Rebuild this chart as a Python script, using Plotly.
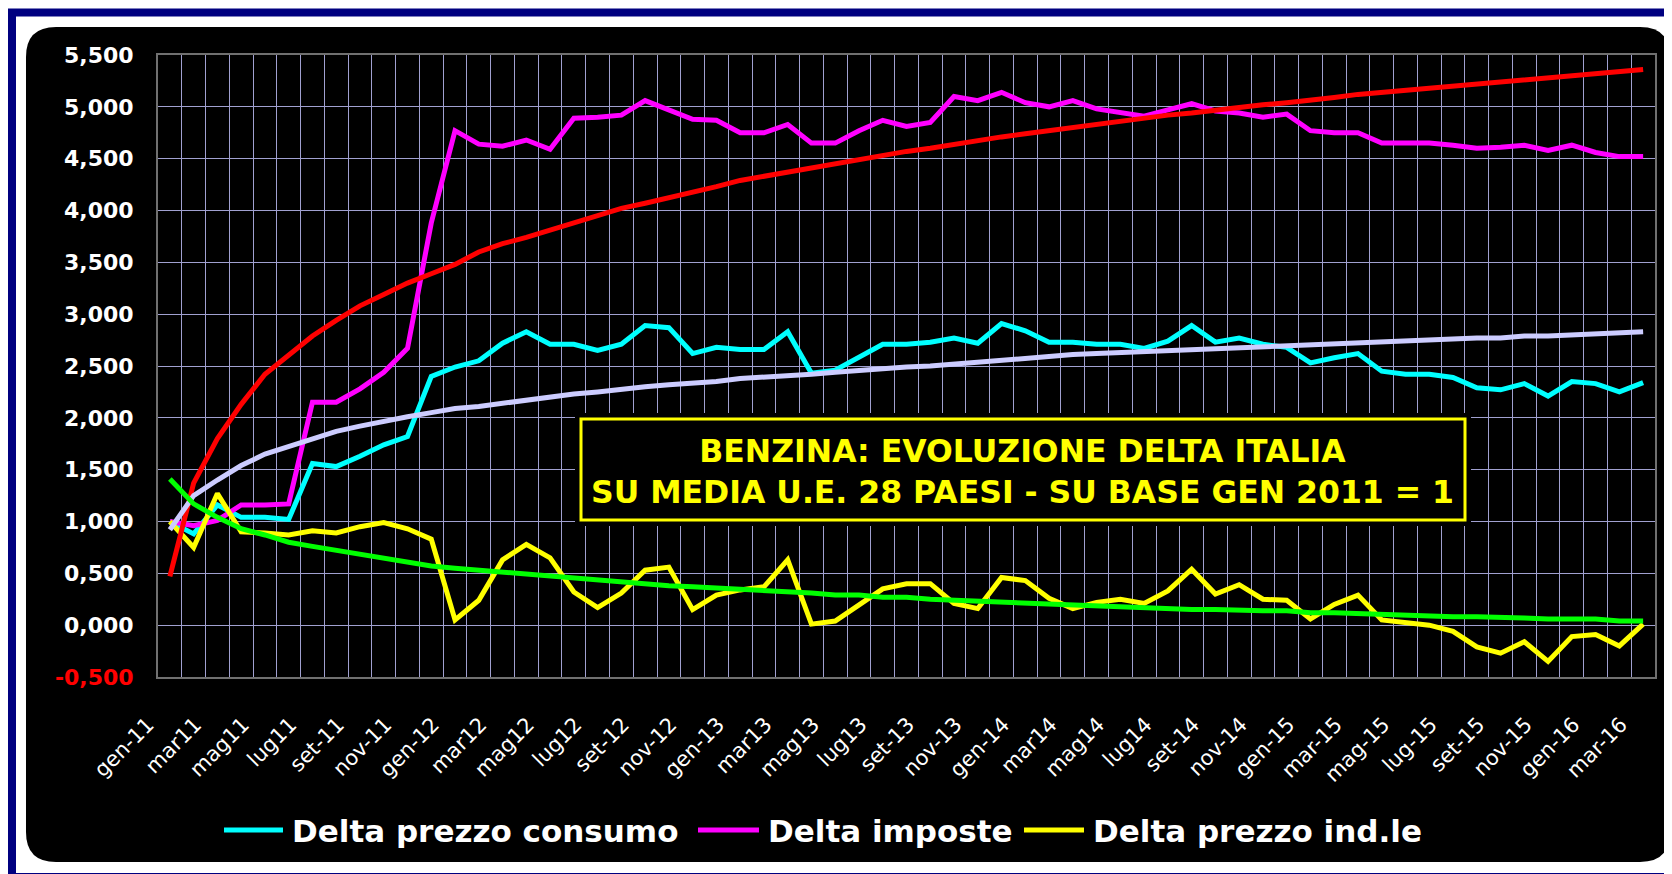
import plotly.graph_objects as go

# ---------------- data ----------------
months = [
    "gen-11", "feb-11", "mar-11", "apr-11", "mag-11", "giu-11", "lug-11", "ago-11", "set-11", "ott-11", "nov-11", "dic-11",
    "gen-12", "feb-12", "mar-12", "apr-12", "mag-12", "giu-12", "lug-12", "ago-12", "set-12", "ott-12", "nov-12", "dic-12",
    "gen-13", "feb-13", "mar-13", "apr-13", "mag-13", "giu-13", "lug-13", "ago-13", "set-13", "ott-13", "nov-13", "dic-13",
    "gen-14", "feb-14", "mar-14", "apr-14", "mag-14", "giu-14", "lug-14", "ago-14", "set-14", "ott-14", "nov-14", "dic-14",
    "gen-15", "feb-15", "mar-15", "apr-15", "mag-15", "giu-15", "lug-15", "ago-15", "set-15", "ott-15", "nov-15", "dic-15",
    "gen-16", "feb-16", "mar-16",
]

# labels shown on the axis (every second month, as written in the original)
tick_labels = [
    "gen-11", "mar11", "mag11", "lug11", "set-11", "nov-11",
    "gen-12", "mar12", "mag12", "lug12", "set-12", "nov-12",
    "gen-13", "mar13", "mag13", "lug13", "set-13", "nov-13",
    "gen-14", "mar14", "mag14", "lug14", "set-14", "nov-14",
    "gen-15", "mar-15", "mag-15", "lug-15", "set-15", "nov-15",
    "gen-16", "mar-16",
]

delta_prezzo_consumo = [
    1.00, 0.88, 1.16, 1.04, 1.04, 1.02, 1.56, 1.53, 1.63, 1.74,
    1.82, 2.40, 2.49, 2.55, 2.72, 2.83, 2.71, 2.71, 2.65, 2.71,
    2.89, 2.87, 2.62, 2.68, 2.66, 2.66, 2.83, 2.43, 2.46, 2.59,
    2.71, 2.71, 2.73, 2.77, 2.72, 2.91, 2.84, 2.73, 2.73, 2.71,
    2.71, 2.67, 2.74, 2.89, 2.73, 2.77, 2.71, 2.68, 2.53, 2.58,
    2.62, 2.45, 2.42, 2.42, 2.39, 2.29, 2.27, 2.33, 2.21, 2.35,
    2.33, 2.25, 2.34,
]

delta_imposte = [
    1.00, 0.96, 1.01, 1.16, 1.16, 1.17, 2.15, 2.15, 2.28, 2.44,
    2.67, 3.88, 4.77, 4.64, 4.62, 4.68, 4.59, 4.89, 4.90, 4.92,
    5.06, 4.97, 4.88, 4.87, 4.75, 4.75, 4.83, 4.65, 4.65, 4.77,
    4.87, 4.81, 4.85, 5.10, 5.06, 5.14, 5.04, 5.00, 5.06, 4.98,
    4.94, 4.91, 4.97, 5.03, 4.96, 4.94, 4.90, 4.93, 4.77, 4.75,
    4.75, 4.65, 4.65, 4.65, 4.63, 4.60, 4.61, 4.63, 4.58, 4.63,
    4.56, 4.52, 4.52,
]

delta_prezzo_industriale = [
    1.00, 0.75, 1.27, 0.90, 0.89, 0.87, 0.91, 0.89, 0.95, 0.99,
    0.93, 0.83, 0.05, 0.24, 0.63, 0.78, 0.65, 0.32, 0.17, 0.31,
    0.53, 0.56, 0.15, 0.29, 0.34, 0.37, 0.63, 0.01, 0.04, 0.20,
    0.35, 0.40, 0.40, 0.21, 0.16, 0.46, 0.43, 0.26, 0.16, 0.22,
    0.25, 0.21, 0.33, 0.54, 0.30, 0.39, 0.25, 0.24, 0.06, 0.20,
    0.29, 0.05, 0.02, 0.00, -0.06, -0.21, -0.27, -0.16, -0.35, -0.11,
    -0.09, -0.20, 0.01,
]

# trend lines (as drawn in the original)
trend_imposte = [
    0.47, 1.37, 1.80, 2.13, 2.42, 2.60, 2.79, 2.94, 3.08, 3.19,
    3.30, 3.39, 3.48, 3.60, 3.68, 3.74, 3.81, 3.89, 3.95, 4.02,
    4.07, 4.12, 4.18, 4.23, 4.29, 4.33, 4.37, 4.41, 4.46, 4.49,
    4.53, 4.57, 4.60, 4.64, 4.67, 4.71, 4.74, 4.77, 4.80, 4.83,
    4.87, 4.89, 4.92, 4.94, 4.97, 5.00, 5.02, 5.04, 5.06, 5.09,
    5.12, 5.14, 5.16, 5.18, 5.21, 5.22, 5.25, 5.26, 5.29, 5.30,
    5.33, 5.34, 5.36,
]

trend_consumo = [
    0.92, 1.25, 1.40, 1.54, 1.65, 1.72, 1.80, 1.87, 1.92, 1.97,
    2.01, 2.05, 2.09, 2.11, 2.14, 2.17, 2.21, 2.23, 2.25, 2.28,
    2.30, 2.32, 2.33, 2.35, 2.38, 2.39, 2.41, 2.42, 2.44, 2.46,
    2.47, 2.49, 2.50, 2.52, 2.53, 2.55, 2.57, 2.59, 2.61, 2.62,
    2.63, 2.64, 2.65, 2.66, 2.67, 2.67, 2.69, 2.70, 2.71, 2.71,
    2.73, 2.74, 2.75, 2.75, 2.76, 2.77, 2.77, 2.79, 2.79, 2.80,
    2.81, 2.81, 2.83,
]

trend_industriale = [
    1.41, 1.17, 1.04, 0.93, 0.87, 0.80, 0.76, 0.72, 0.68, 0.64,
    0.60, 0.57, 0.55, 0.53, 0.51, 0.49, 0.47, 0.45, 0.44, 0.42,
    0.40, 0.38, 0.37, 0.36, 0.34, 0.33, 0.32, 0.31, 0.29, 0.29,
    0.27, 0.27, 0.25, 0.24, 0.24, 0.22, 0.21, 0.21, 0.20, 0.19,
    0.17, 0.17, 0.16, 0.15, 0.15, 0.14, 0.14, 0.14, 0.12, 0.12,
    0.11, 0.10, 0.09, 0.09, 0.08, 0.08, 0.08, 0.07, 0.06, 0.06,
    0.06, 0.04, 0.04,
]

y_ticks = [-0.5, 0.0, 0.5, 1.0, 1.5, 2.0, 2.5, 3.0, 3.5, 4.0, 4.5, 5.0, 5.5]

series = [
    ("Delta prezzo consumo", delta_prezzo_consumo, "#00FFFF"),
    ("Delta imposte", delta_imposte, "#FF00FF"),
    ("Delta prezzo ind.le", delta_prezzo_industriale, "#FFFF00"),
]
trends = [
    (trend_imposte, "#FF0000"),
    (trend_consumo, "#CCCCFF"),
    (trend_industriale, "#00FF00"),
]

# ---------------- layout geometry ----------------
# the page body has an 8px margin: figure origin sits at page (8, 8)
OFF = 8
W, H = 1672 - OFF, 874 - OFF
ML, MR, MT, MB = 150, 17, 47, 197
PW, PH = W - ML - MR, H - MT - MB


def px_x(p):
    """page pixel x -> paper fraction"""
    return (p - OFF - ML) / PW


def px_y(p):
    """page pixel y -> paper fraction"""
    return (H - MB - (p - OFF)) / PH


FONT = "DejaVu Sans"
LW = 5

fig = go.Figure()
for name, vals, col in series:
    fig.add_trace(go.Scatter(x=months, y=vals, mode="lines", name=name,
                             showlegend=False, line=dict(color=col, width=LW)))
for vals, col in trends:
    fig.add_trace(go.Scatter(x=months, y=vals, mode="lines", showlegend=False,
                             line=dict(color=col, width=LW), hoverinfo="skip"))


def fmt(v):
    s = f"{v:.3f}".replace(".", ",")
    if v < 0:
        return f"<span style='color:#FF0000'>{s}</span>"
    return s


label_map = {months[2 * k]: lab for k, lab in enumerate(tick_labels)}
x_ticktext = [label_map.get(m, "") for m in months]

GRID = "#A0A0D0"
fig.update_xaxes(
    type="category", categoryorder="array", categoryarray=months,
    tickmode="array", tickvals=months, ticktext=x_ticktext,
    tickson="boundaries", ticks="", tickangle=-45,
    tickfont=dict(family=FONT, size=21, color="white"),
    ticklabelstandoff=25, ticklabelshift=-22,
    showgrid=True, gridcolor=GRID, gridwidth=1,
    showline=True, linecolor="#707070", linewidth=2, mirror=True,
    range=[-0.5, len(months) - 0.5], zeroline=False,
)
fig.update_yaxes(
    range=[-0.5, 5.5], tickmode="array", tickvals=y_ticks,
    ticktext=[fmt(v) for v in y_ticks], ticks="",
    tickfont=dict(family=FONT, size=22, color="white", weight="bold"),
    ticklabelstandoff=18,
    showgrid=True, gridcolor=GRID, gridwidth=1, zeroline=False,
    showline=True, linecolor="#707070", linewidth=2, mirror=True,
)


def rounded_path(x0, y0, x1, y1, r):
    pts = [
        ("M", [(x0 + r, y0)]),
        ("L", [(x1 - r, y0)]),
        ("Q", [(x1, y0), (x1, y0 + r)]),
        ("L", [(x1, y1 - r)]),
        ("Q", [(x1, y1), (x1 - r, y1)]),
        ("L", [(x0 + r, y1)]),
        ("Q", [(x0, y1), (x0, y1 - r)]),
        ("L", [(x0, y0 + r)]),
        ("Q", [(x0, y0), (x0 + r, y0)]),
    ]
    s = ""
    for cmd, ps in pts:
        s += cmd + " ".join(f"{px_x(a):.5f},{px_y(b):.5f}" for a, b in ps)
    return s + "Z"


shapes = [
    # navy outer frame
    dict(type="rect", xref="paper", yref="paper",
         x0=px_x(12), x1=px_x(1690), y0=px_y(12.5), y1=px_y(877),
         line=dict(color="#000080", width=8), fillcolor="rgba(0,0,0,0)", layer="below"),
    # black rounded chart background
    dict(type="path", xref="paper", yref="paper",
         path=rounded_path(26, 27, 1670, 862, 30),
         fillcolor="black", line=dict(width=0), layer="below"),
    # title box: black clearance + yellow framed box
    dict(type="rect", xref="paper", yref="paper",
         x0=px_x(575), x1=px_x(1471), y0=px_y(413), y1=px_y(526),
         fillcolor="black", line=dict(width=0), layer="above"),
    dict(type="rect", xref="paper", yref="paper",
         x0=px_x(581), x1=px_x(1465), y0=px_y(419), y1=px_y(520),
         fillcolor="black", line=dict(color="#FFFF00", width=3), layer="above"),
]

fig.add_annotation(
    xref="paper", yref="paper", x=px_x(1023), y=px_y(471),
    xanchor="center", yanchor="middle", showarrow=False, align="center",
    text="BENZINA: EVOLUZIONE DELTA ITALIA<br>SU MEDIA U.E. 28 PAESI - SU BASE GEN 2011 = 1",
    font=dict(family=FONT, size=31.5, color="#FFFF00", weight="bold"),
)

# legend (key line + label) below the chart
legend_pos = [(224, 283, 290), (698, 759, 766), (1024, 1084, 1091)]
LEG_Y = 830
for (name, _, col), (lx0, lx1, tx) in zip(series, legend_pos):
    shapes.append(dict(type="line", xref="paper", yref="paper",
                       x0=px_x(lx0), x1=px_x(lx1), y0=px_y(LEG_Y), y1=px_y(LEG_Y),
                       line=dict(color=col, width=5), layer="above"))
    fig.add_annotation(xref="paper", yref="paper", x=px_x(tx), y=px_y(LEG_Y + 1),
                       xanchor="left", yanchor="middle", showarrow=False, text=name,
                       font=dict(family=FONT, size=31, color="white", weight="bold"))

fig.update_layout(
    width=W, height=H,
    margin=dict(l=ML, r=MR, t=MT, b=MB, autoexpand=False),
    paper_bgcolor="white", plot_bgcolor="black",
    shapes=shapes, showlegend=False,
)

fig.write_html("out.html")
